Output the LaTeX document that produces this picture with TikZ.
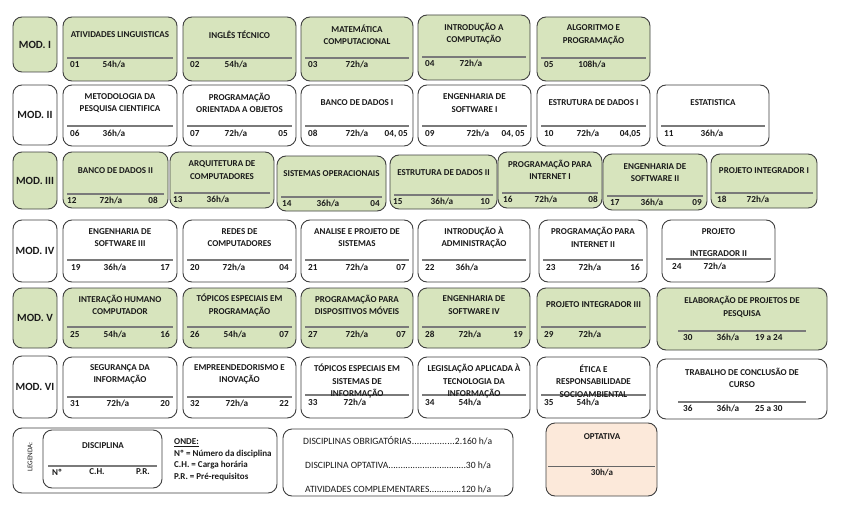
\documentclass[tikz,border=0pt]{standalone}
\usepackage{fontspec}
\setmainfont{Carlito}
\usetikzlibrary{calc}
\definecolor{lgreen}{HTML}{D7E4BD}
\definecolor{peach}{HTML}{FCE9DA}
\definecolor{bord}{HTML}{404040}
\definecolor{sepc}{HTML}{7A7A7A}
\definecolor{txt}{HTML}{1A1A1A}
\tikzset{
  discbox/.style={draw=bord, line width=0.9pt, rounded corners=9pt, inner sep=0pt, outer sep=0pt},
  sepline/.style={draw=sepc, line width=1.1pt},
  ttl/.style={font=\fontsize{9}{12.5}\selectfont\bfseries, text=txt, align=center, inner sep=0pt},
  btxt/.style={font=\fontsize{9.2}{10}\selectfont\bfseries, text=txt, inner sep=0pt},
  modbox/.style={discbox, minimum width=44pt, font=\fontsize{11}{13}\selectfont\bfseries, text=txt},
  legtxt/.style={font=\fontsize{9}{10}\selectfont\bfseries, text=txt, inner sep=0pt},
  tottxt/.style={font=\fontsize{9.6}{11}\selectfont, text=txt, inner sep=0pt, anchor=base west},
}
\pgfkeys{/disc/x1/.store in=\dxa, /disc/y1/.store in=\dya, /disc/x2/.store in=\dxb, /disc/y2/.store in=\dyb,
 /disc/sep/.store in=\dsep, /disc/title/.store in=\dtitle, /disc/num/.store in=\dnum,
 /disc/ch/.store in=\dch, /disc/pr/.store in=\dpr, /disc/bg/.store in=\dbg, /disc/ts/.store in=\dts,
 /disc/chx/.store in=\dchx, /disc/sl/.store in=\dsl, /disc/sr/.store in=\dsr, /disc/prx/.store in=\dprx,
 /disc/tyoff/.store in=\dtyoff, /disc/nx/.store in=\dnx, /disc/prr/.store in=\dprr}
\newcommand\disc[1]{%
  \begingroup
  \pgfkeys{/disc/.cd, bg=white, ts=-2.5, pr={}, chx=53, sl=4, sr=4, prx={}, tyoff=10, nx=7, prr=7, #1}%
  \pgfmathsetmacro\dw{\dxb-\dxa}%
  \pgfmathsetmacro\dh{\dyb-\dya}%
  \pgfmathsetmacro\dcx{(\dxa+\dxb)/2}%
  \pgfmathsetmacro\dcy{(\dya+\dyb)/2}%
  \pgfmathsetmacro\dty{(\dya+\dsep)/2+\dts}%
  \pgfmathsetmacro\dby{\dsep+\dtyoff}%
  \node[discbox, fill=\dbg, minimum width=\dw pt, minimum height=\dh pt] (d\dnum) at (\dcx,\dcy) {};
  \draw[sepline] (\dxa+\dsl,\dsep) -- (\dxb-\dsr,\dsep);
  \node[ttl] (d\dnum-t) at (\dcx,\dty) {\dtitle};
  \node[btxt, anchor=base west] (d\dnum-n) at (\dxa+\dnx,\dby) {\dnum};
  \node[btxt, anchor=base] (d\dnum-c) at (\dxa+\dchx,\dby) {\dch};
  \if\relax\detokenize\expandafter{\dprx}\relax
    \node[btxt, anchor=base east] (d\dnum-p) at (\dxb-\dprr,\dby) {\dpr};
  \else
    \node[btxt, anchor=base west] (d\dnum-p) at (\dprx,\dby) {\dpr};
  \fi
  \endgroup}
\newcommand\tdots{\xleaders\hbox{.}\hfill}
\begin{document}
\begin{tikzpicture}[x=1pt,y=-1pt]
\useasboundingbox[fill=white] (0,0) rectangle (864,516);
% module labels
\node[modbox, fill=lgreen, minimum height=55pt] (m1) at (35,44.5) {MOD. I};
\node[modbox, fill=white, minimum height=60pt] (m2) at (35,115) {MOD. II};
\node[modbox, fill=lgreen, minimum height=57pt] (m3) at (35,180.5) {MOD. III};
\node[modbox, fill=white, minimum height=62pt] (m4) at (35,251) {MOD. IV};
\node[modbox, fill=lgreen, minimum height=60pt] (m5) at (35,318) {MOD. V};
\node[modbox, fill=white, minimum height=62pt] (m6) at (35,387) {MOD. VI};
% row 1
\disc{bg=lgreen, x1=63, y1=17, x2=177, y2=81, sep=58, title={ATIVIDADES LINGUISTICAS}, num=01, ch=54h/a, chx=51}
\disc{bg=lgreen, x1=183, y1=17, x2=296, y2=81, sep=58, title={INGLÊS TÉCNICO}, num=02, ch=54h/a}
\disc{bg=lgreen, x1=301, y1=17, x2=413, y2=81, sep=58, title={MATEMÁTICA\\COMPUTACIONAL}, num=03, ch=72h/a, chx=56}
\disc{bg=lgreen, x1=418, y1=15, x2=530, y2=80, sep=57, title={INTRODUÇÃO A\\COMPUTAÇÃO}, num=04, ch=72h/a}
\disc{bg=lgreen, x1=537, y1=17, x2=650, y2=81, sep=58, title={ALGORITMO E\\PROGRAMAÇÃO}, num=05, ch=108h/a, chx=55}
% row 2
\disc{x1=63, y1=85, x2=177, y2=146, sep=126, title={METODOLOGIA DA\\PESQUISA CIENTIFICA}, num=06, ch=36h/a, chx=51}
\disc{x1=183, y1=85, x2=296, y2=146, sep=126, title={PROGRAMAÇÃO\\ORIENTADA A OBJETOS}, num=07, ch=72h/a, pr=05, prr=8}
\disc{x1=301, y1=85, x2=413, y2=146, sep=126, title={BANCO DE DADOS I}, num=08, ch=72h/a, pr={04, 05}, chx=56, prr=5}
\disc{x1=418, y1=85, x2=531, y2=146, sep=126, title={ENGENHARIA DE\\SOFTWARE I}, num=09, ch=72h/a, pr={04, 05}, chx=60, prr=6}
\disc{x1=537, y1=85, x2=650, y2=146, sep=126, title={ESTRUTURA DE DADOS I}, num=10, ch=72h/a, pr={04,05}, chx=51, prr=9}
\disc{x1=657, y1=85, x2=769, y2=146, sep=126, title={ESTATISTICA}, num=11, ch=36h/a, chx=55}
% row 3
\disc{bg=lgreen, x1=63, y1=152, x2=168, y2=208, sep=194, title={BANCO DE DADOS II}, num=12, ch=72h/a, pr=08, chx=48, nx=4, prr=10, tyoff=9}
\disc{bg=lgreen, x1=170, y1=152, x2=274, y2=208, sep=193, title={ARQUITETURA DE\\COMPUTADORES}, num=13, ch=36h/a, chx=48, nx=3, tyoff=9}
\disc{bg=lgreen, x1=277, y1=156, x2=386, y2=211, sep=197, title={SISTEMAS OPERACIONAIS}, num=14, ch=36h/a, pr=04, chx=51, nx=5, prr=6, tyoff=9}
\disc{bg=lgreen, x1=390, y1=155, x2=497, y2=209, sep=195, title={ESTRUTURA DE DADOS II}, num=15, ch=36h/a, pr=10, chx=52, nx=3, tyoff=9}
\disc{bg=lgreen, x1=498, y1=152, x2=602, y2=208, sep=193, title={PROGRAMAÇÃO PARA\\INTERNET I}, num=16, ch=72h/a, pr=08, chx=48, nx=5, prr=4, tyoff=9}
\disc{bg=lgreen, x1=603, y1=154, x2=707, y2=210, sep=196, title={ENGENHARIA DE\\SOFTWARE II}, num=17, ch=36h/a, pr=09, chx=49, prr=5, tyoff=9}
\disc{bg=lgreen, x1=711, y1=154, x2=817, y2=208, sep=193, title={PROJETO INTEGRADOR I}, num=18, ch=72h/a, chx=47, nx=6, tyoff=9}
% row 4
\disc{x1=63, y1=220, x2=177, y2=282, sep=260, title={ENGENHARIA DE\\SOFTWARE III}, num=19, ch=36h/a, pr=17, chx=52, nx=8}
\disc{x1=183, y1=220, x2=296, y2=282, sep=260, title={REDES DE\\COMPUTADORES}, num=20, ch=72h/a, pr=04, chx=51}
\disc{x1=301, y1=220, x2=413, y2=282, sep=260, title={ANALISE E PROJETO DE\\SISTEMAS}, num=21, ch=72h/a, pr=07, chx=56}
\disc{x1=418, y1=220, x2=530, y2=282, sep=260, title={INTRODUÇÃO À\\ADMINISTRAÇÃO}, num=22, ch=36h/a, chx=49}
\disc{x1=539, y1=220, x2=647, y2=282, sep=260, title={PROGRAMAÇÃO PARA\\INTERNET II}, num=23, ch=72h/a, pr=16, chx=51}
\disc{x1=662, y1=220, x2=775, y2=282, sep=259, title={PROJETO\\[9pt]INTEGRADOR II}, num=24, ch=72h/a, chx=53, nx=10, ts=3}
% row 5
\disc{bg=lgreen, x1=63, y1=288, x2=177, y2=348, sep=327, title={INTERAÇÃO HUMANO\\COMPUTADOR}, num=25, ch=54h/a, pr=16, chx=52}
\disc{bg=lgreen, x1=183, y1=288, x2=296, y2=348, sep=327, title={TÓPICOS ESPECIAIS EM\\PROGRAMAÇÃO}, num=26, ch=54h/a, pr=07, chx=52}
\disc{bg=lgreen, x1=301, y1=288, x2=413, y2=348, sep=327, title={PROGRAMAÇÃO PARA\\DISPOSITIVOS MÓVEIS}, num=27, ch=72h/a, pr=07, chx=56}
\disc{bg=lgreen, x1=418, y1=288, x2=530, y2=348, sep=327, title={ENGENHARIA DE\\SOFTWARE IV}, num=28, ch=72h/a, pr=19, chx=52}
\disc{bg=lgreen, x1=537, y1=288, x2=650, y2=348, sep=327, title={PROJETO INTEGRADOR III}, num=29, ch=72h/a, chx=53}
\disc{bg=lgreen, x1=657, y1=288, x2=827, y2=350, sep=331, title={ELABORAÇÃO DE PROJETOS DE\\PESQUISA}, num=30, ch=36h/a, pr={19 a 24}, sl=21, sr=21, nx=26, chx=71, prx=755, tyoff=9}
% row 6
\disc{x1=63, y1=357, x2=177, y2=418, sep=397, title={SEGURANÇA DA\\INFORMAÇÃO}, num=31, ch=72h/a, pr=20, chx=55, tyoff=9}
\disc{x1=183, y1=357, x2=296, y2=418, sep=397, title={EMPREENDEDORISMO E\\INOVAÇÃO}, num=32, ch=72h/a, pr=22, chx=54, tyoff=9}
\disc{x1=301, y1=357, x2=413, y2=418, sep=395, title={TÓPICOS ESPECIAIS EM\\SISTEMAS DE\\INFORMAÇÃO}, num=33, ch=72h/a, chx=54, ts=5}
\disc{x1=418, y1=357, x2=530, y2=418, sep=395, title={LEGISLAÇÃO APLICADA À\\TECNOLOGIA DA\\INFORMAÇÃO}, num=34, ch=54h/a, chx=52, ts=5}
\disc{x1=537, y1=357, x2=650, y2=418, sep=395, title={ÉTICA E\\RESPONSABILIDADE\\SOCIOAMBIENTAL}, num=35, ch=54h/a, chx=51, ts=5}
\disc{x1=657, y1=359, x2=827, y2=419, sep=402, title={TRABALHO DE CONCLUSÃO DE\\CURSO}, num=36, ch=36h/a, pr={25 a 30}, sl=21, sr=21, nx=26, chx=71, prx=755, tyoff=9}
% legend
\node[discbox, minimum width=264pt, minimum height=65pt] (leg) at (145,460.5) {};
\node[rotate=90, font=\fontsize{7.2}{8}\selectfont, text=txt, inner sep=0pt] (legt) at (30,457) {LEGENDA:};
\node[discbox, minimum width=119pt, minimum height=58pt] (legd) at (102.5,459) {};
\draw[sepline] (48,466) -- (157,466);
\node[legtxt] (legdt) at (103,446) {DISCIPLINA};
\node[legtxt] (legn) at (57,472) {Nº};
\node[legtxt] (legc) at (97,472) {C.H.};
\node[legtxt] (legp) at (143,472) {P.R.};
\node[legtxt, anchor=west] (onde) at (174,443) {\underline{ONDE:}};
\node[legtxt, anchor=west] (onde1) at (174,454) {Nº = Número da disciplina};
\node[legtxt, anchor=west] (onde2) at (174,465) {C.H. = Carga horária};
\node[legtxt, anchor=west] (onde3) at (174,477) {P.R. = Pré-requisitos};
% totals
\node[discbox, minimum width=230pt, minimum height=67pt] (tot) at (398,462.5) {};
\node[tottxt] (tot1) at (303,444.5) {\hbox to 189pt{DISCIPLINAS OBRIGATÓRIAS\tdots2.160 h/a}};
\node[tottxt] (tot2) at (305,468.5) {\hbox to 186pt{DISCIPLINA OPTATIVA\tdots30 h/a}};
\node[tottxt] (tot3) at (305,492.5) {\hbox to 186pt{ATIVIDADES COMPLEMENTARES\tdots120 h/a}};
% optativa
\node[discbox, fill=peach, minimum width=111pt, minimum height=73pt] (opt) at (601.5,459.5) {};
\draw[draw=bord!80, line width=0.8pt] (548,466) -- (655,466);
\node[legtxt] (optt) at (602,437) {OPTATIVA};
\node[legtxt] (optc) at (602,473) {30h/a};
\end{tikzpicture}
\end{document}
